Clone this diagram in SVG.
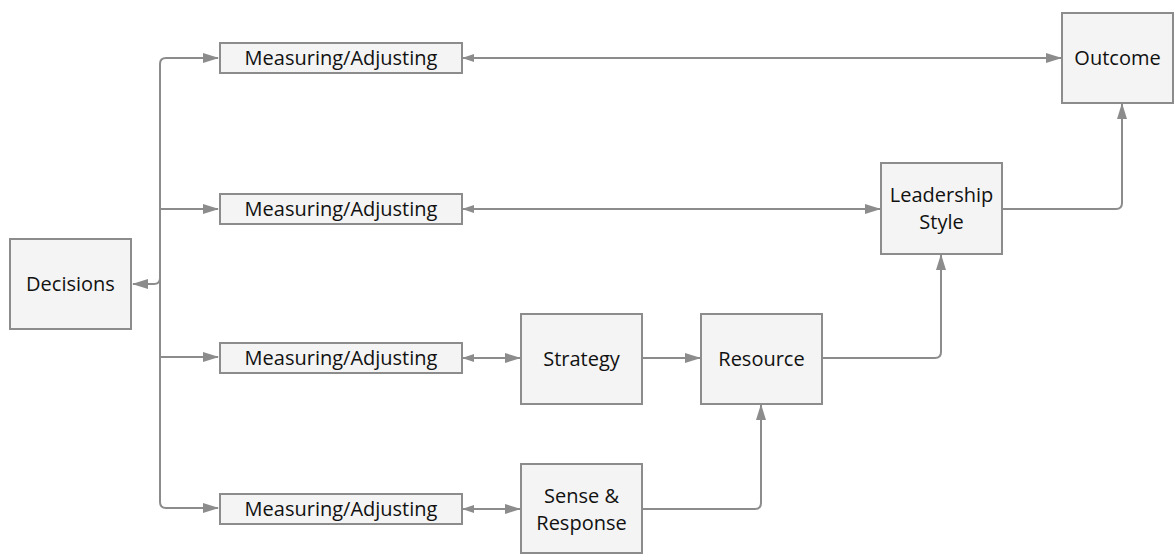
<svg xmlns="http://www.w3.org/2000/svg" width="1175" height="554" viewBox="0 0 1175 554">
<style>
.box{fill:#f4f4f4;stroke:#8c8c8c;stroke-width:2}
.t{font-family:"Open Sans","Noto Sans",sans-serif;font-size:20px;fill:#111;text-anchor:middle}
.c{fill:none;stroke:#8c8c8c;stroke-width:2}
</style>
<defs>
<marker id="ah" markerWidth="16" markerHeight="10" refX="15" refY="5" orient="auto" markerUnits="userSpaceOnUse"><path d="M0,0 L16,5 L0,10 z" fill="#8c8c8c"/></marker>
<marker id="as" markerWidth="12" markerHeight="8" refX="1" refY="4" orient="auto" markerUnits="userSpaceOnUse"><path d="M12,0 L0,4 L12,8 z" fill="#8c8c8c"/></marker>
</defs>
<rect width="1175" height="554" fill="#fff"/>
<g id="connectors">
<path class="c" d="M160,284 V64 Q160,58 166,58 H218" marker-end="url(#ah)"/>
<path class="c" d="M160,284 V502 Q160,508 166,508 H218" marker-end="url(#ah)"/>
<path class="c" d="M160,209 H218" marker-end="url(#ah)"/>
<path class="c" d="M160,357 H218" marker-end="url(#ah)"/>
<path class="c" d="M160,278 Q160,284 154,284 H133" marker-end="url(#ah)"/>
<path class="c" d="M463,58 H1061" marker-start="url(#as)" marker-end="url(#ah)"/>
<path class="c" d="M463,209 H880" marker-start="url(#as)" marker-end="url(#ah)"/>
<path class="c" d="M463,358 H520" marker-start="url(#as)" marker-end="url(#ah)"/>
<path class="c" d="M463,509 H520" marker-start="url(#as)" marker-end="url(#ah)"/>
<path class="c" d="M643,358 H700" marker-end="url(#ah)"/>
<path class="c" d="M643,509 H755 Q761,509 761,503 V405" marker-end="url(#ah)"/>
<path class="c" d="M823,358 H935 Q941,358 941,352 V255" marker-end="url(#ah)"/>
<path class="c" d="M1003,209 H1116 Q1122,209 1122,203 V104" marker-end="url(#ah)"/>
</g>
<g id="decisions"><rect class="box" x="10" y="239" width="121" height="90"/><text class="t" x="70.5" y="291">Decisions</text></g>
<g id="measuring1"><rect class="box" x="220" y="43" width="242" height="30"/><text class="t" x="341" y="65">Measuring/Adjusting</text></g>
<g id="measuring2"><rect class="box" x="220" y="194" width="242" height="30"/><text class="t" x="341" y="216">Measuring/Adjusting</text></g>
<g id="measuring3"><rect class="box" x="220" y="343" width="242" height="30"/><text class="t" x="341" y="365">Measuring/Adjusting</text></g>
<g id="measuring4"><rect class="box" x="220" y="494" width="242" height="30"/><text class="t" x="341" y="516">Measuring/Adjusting</text></g>
<g id="strategy"><rect class="box" x="521" y="314" width="121" height="90"/><text class="t" x="581.5" y="366">Strategy</text></g>
<g id="resource"><rect class="box" x="701" y="314" width="121" height="90"/><text class="t" x="761.5" y="366">Resource</text></g>
<g id="sense"><rect class="box" x="521" y="464" width="121" height="89"/><text class="t" x="581.5" y="503">Sense &amp;</text><text class="t" x="581.5" y="530">Response</text></g>
<g id="leadership"><rect class="box" x="881" y="163" width="121" height="91"/><text class="t" x="941.5" y="202">Leadership</text><text class="t" x="941.5" y="229">Style</text></g>
<g id="outcome"><rect class="box" x="1062" y="13" width="111" height="90"/><text class="t" x="1117.5" y="65">Outcome</text></g>
</svg>
